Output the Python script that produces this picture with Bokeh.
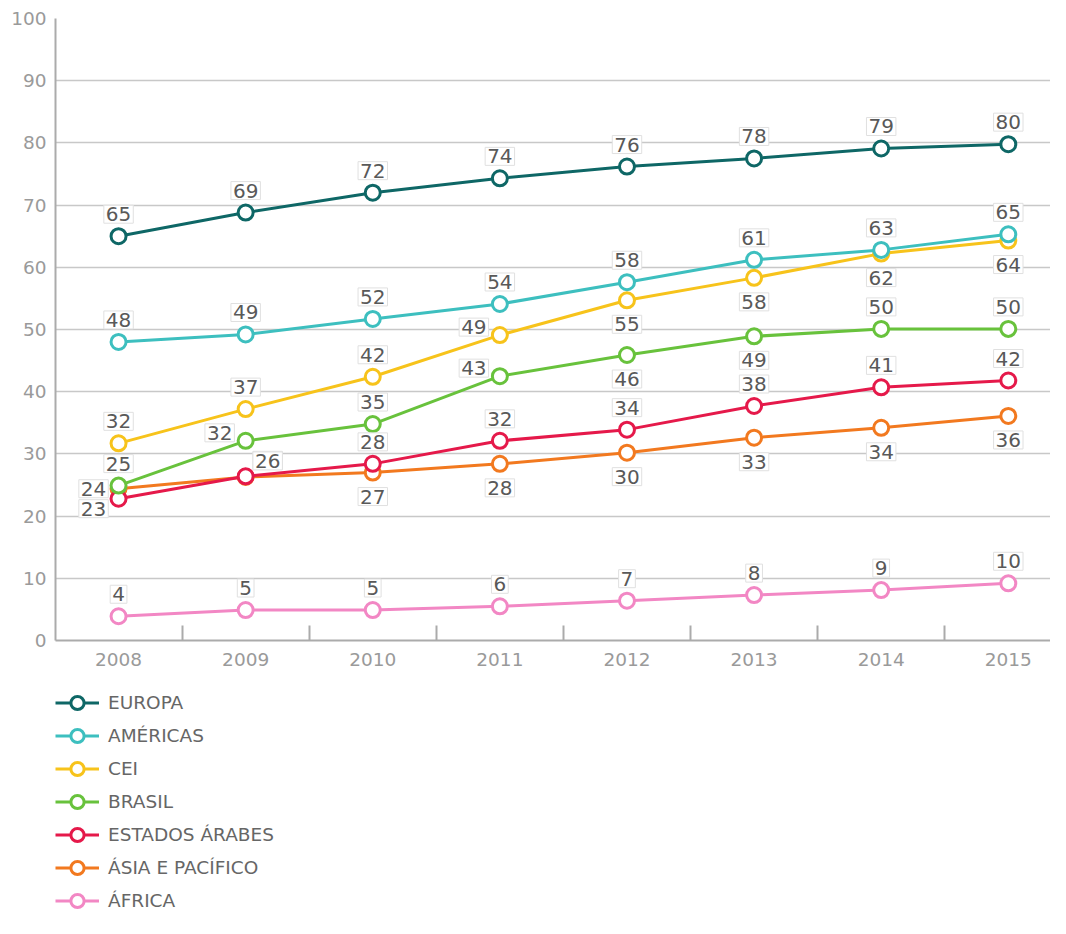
from bokeh.plotting import figure
from bokeh.layouts import column
from bokeh.models import (ColumnDataSource, FixedTicker, Range1d, Legend, LegendItem)
from bokeh.core.properties import value
from bokeh.embed import file_html
from bokeh.resources import INLINE

years = [2008, 2009, 2010, 2011, 2012, 2013, 2014, 2015]
tick_labels = ["2008", "2009", "2010", "2011", "2012", "2013", "2014", "2015"]

series_names = ["EUROPA", "AMÉRICAS", "CEI", "BRASIL", "ESTADOS ÁRABES",
                "ÁSIA E PACÍFICO", "ÁFRICA"]

europa = [65.0, 68.8, 72.0, 74.3, 76.2, 77.5, 79.1, 79.8]
americas = [48.0, 49.2, 51.7, 54.1, 57.6, 61.2, 62.8, 65.3]
cei = [31.7, 37.2, 42.4, 49.1, 54.7, 58.3, 62.2, 64.3]
brasil = [24.9, 32.1, 34.8, 42.5, 45.9, 48.9, 50.1, 50.1]
arabes = [22.8, 26.4, 28.4, 32.1, 33.9, 37.7, 40.7, 41.8]
asia = [24.4, 26.3, 27.0, 28.4, 30.2, 32.6, 34.2, 36.1]
africa = [3.9, 4.9, 4.9, 5.5, 6.4, 7.3, 8.1, 9.2]

europa_lbl = ["65", "69", "72", "74", "76", "78", "79", "80"]
americas_lbl = ["48", "49", "52", "54", "58", "61", "63", "65"]
cei_lbl = ["32", "37", "42", "49", "55", "58", "62", "64"]
brasil_lbl = ["25", "32", "35", "43", "46", "49", "50", "50"]
arabes_lbl = ["23", "26", "28", "32", "34", "38", "41", "42"]
asia_lbl = ["24", "26", "27", "28", "30", "33", "34", "36"]
africa_lbl = ["4", "5", "5", "6", "7", "8", "9", "10"]

# --- styling (not data) ---
colors = ["#0e6766", "#3dbfbf", "#f7c31b", "#68c23c", "#e5194a", "#f2791f", "#f287c4"]
A, B, L, L0, LD, UR = "above", "below", "left", "left0", "leftdown", "upright"
placements = [
    [A] * 8,
    [A] * 8,
    [A, A, A, L, B, B, B, B],
    [A, L, A, L, B, B, A, A],
    [LD, UR, A, A, A, A, A, A],
    [L0, UR, B, B, B, B, B, B],
    [A] * 8,
]
offsets = {A: (0, -22), B: (0, 24), L: (-26, -8), L0: (-25, 0), LD: (-25, 10), UR: (22, -16)}

FONT = "DejaVu Sans"
W = 1050

p = figure(width=W, height=676, output_backend="svg", toolbar_location=None,
           x_range=Range1d(2007.504, 2015.332), y_range=Range1d(0, 100),
           min_border_left=55, min_border_top=18, min_border_right=0,
           min_border_bottom=36)
p.outline_line_color = None
p.background_fill_color = "white"
p.border_fill_color = "white"

# axes
p.xaxis.ticker = FixedTicker(ticks=years, minor_ticks=[y + 0.5 for y in years[:-1]])
p.xaxis.major_label_overrides = {y: t for y, t in zip(years, tick_labels)}
p.xaxis.major_tick_in = 0
p.xaxis.major_tick_out = 0
p.xaxis.minor_tick_in = 15
p.xaxis.minor_tick_out = 0
p.xaxis.minor_tick_line_color = "#ababab"
p.xaxis.minor_tick_line_width = 2
p.xaxis.axis_line_color = "#ababab"
p.xaxis.axis_line_width = 2
p.xaxis.major_label_text_color = "#9a9a9a"
p.xaxis.major_label_text_font = FONT
p.xaxis.major_label_text_font_size = "18.5px"
p.xaxis.major_label_standoff = 12

p.yaxis.ticker = FixedTicker(ticks=list(range(0, 101, 10)), minor_ticks=[])
p.yaxis.major_tick_in = 0
p.yaxis.major_tick_out = 0
p.yaxis.minor_tick_in = 0
p.yaxis.minor_tick_out = 0
p.yaxis.axis_line_color = "#ababab"
p.yaxis.axis_line_width = 2
p.yaxis.major_label_text_color = "#9a9a9a"
p.yaxis.major_label_text_font = FONT
p.yaxis.major_label_text_font_size = "18.5px"
p.yaxis.major_label_standoff = 9

p.xgrid.grid_line_color = None
p.ygrid.grid_line_color = "#c8c8c8"
p.ygrid.grid_line_width = 1.5

all_values = [europa, americas, cei, brasil, arabes, asia, africa]
all_labels = [europa_lbl, americas_lbl, cei_lbl, brasil_lbl, arabes_lbl, asia_lbl, africa_lbl]

sources = [ColumnDataSource(dict(x=years, y=v)) for v in all_values]

for i in reversed(range(len(series_names))):
    p.line("x", "y", source=sources[i], line_color=colors[i], line_width=3)
    p.scatter("x", "y", source=sources[i], size=15, fill_color="white",
              line_color=colors[i], line_width=3)

lx, ly, lt, ldx, ldy = [], [], [], [], []
for i in range(len(series_names)):
    for j, yr in enumerate(years):
        dx, dy = offsets[placements[i][j]]
        lx.append(yr)
        ly.append(all_values[i][j])
        lt.append(all_labels[i][j])
        ldx.append(dx)
        ldy.append(dy)
lsrc = ColumnDataSource(dict(x=lx, y=ly, t=lt, dx=ldx, dy=ldy))
p.text("x", "y", text="t", source=lsrc, x_offset="dx", y_offset="dy",
       text_align="center", text_baseline="middle",
       text_font=value(FONT), text_font_size="20px", text_color="#595959",
       background_fill_color="white", border_line_color="#e0e0e0",
       border_line_width=1, padding=2)

# legend panel (separate figure below the chart; its ranges keep the series out of view)
q = figure(width=W, height=242, output_backend="svg", toolbar_location=None,
           x_range=Range1d(0, 1), y_range=Range1d(0, 1),
           min_border_left=55, min_border_top=10, min_border_right=0,
           min_border_bottom=0)
q.axis.visible = False
q.grid.visible = False
q.outline_line_color = None
q.background_fill_color = "white"
q.border_fill_color = "white"

items = []
for i in range(len(series_names)):
    lr = q.line("x", "y", source=sources[i], line_color=colors[i], line_width=3)
    sr = q.scatter("x", "y", source=sources[i], size=15, fill_color="white",
                   line_color=colors[i], line_width=3)
    items.append(LegendItem(label=series_names[i], renderers=[lr, sr]))

legend = Legend(items=items, location="top_left", orientation="vertical",
                glyph_width=44, glyph_height=33, label_height=20,
                label_standoff=9, spacing=0, padding=0, margin=0,
                label_text_font=FONT, label_text_font_size="18.5px",
                label_text_color="#666666",
                border_line_color=None, background_fill_alpha=0)
q.add_layout(legend, "center")

layout = column(p, q, spacing=0)
open("out.html", "w").write(file_html(layout, INLINE))
